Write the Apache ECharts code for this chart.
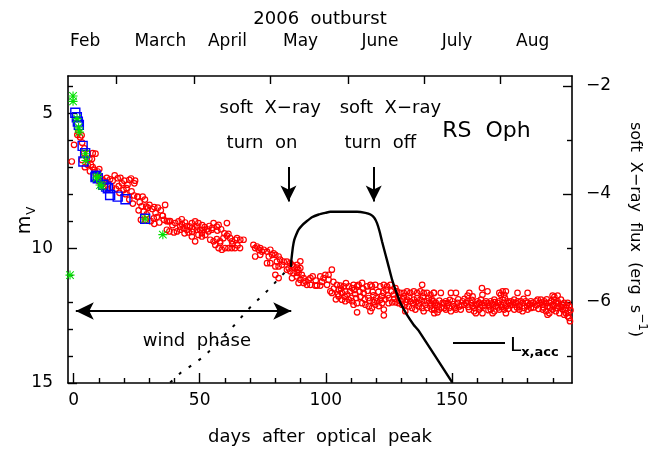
<!DOCTYPE html>
<html>
<head>
<meta charset="utf-8">
<title>RS Oph 2006 outburst</title>
<script src="https://cdn.jsdelivr.net/npm/echarts@6/dist/echarts.min.js"></script>
<style>
  html, body { margin: 0; padding: 0; background: #fff; }
  #chart { width: 670px; height: 454px; }
</style>
</head>
<body>
<div id="chart"></div>
<script>
/* ---- axes / ticks ---- */
const dayTicks = [0, 50, 100, 150]
const dayMinorTicks = [10, 20, 30, 40, 60, 70, 80, 90, 110, 120, 130, 140, 160, 170, 180, 190]
const monthStarts = [17, 48, 78, 109, 139, 169]
const monthNames = ['Feb', 'March', 'April', 'May', 'June', 'July', 'Aug']
const monthLabelDays = [4.6, 34.4, 61, 90, 121.5, 152, 182]
const magTicks = [5, 10, 15]
const magMinorTicks = [4, 6, 7, 8, 9, 11, 12, 13, 14]
const fluxTicks = [-2, -4, -6]
const fluxMinorTicks = [-3, -5, -7]

/* ---- visual magnitudes (day, m_V) ---- */
const redEarly = [
  [-0.7,6.79],[0.2,6.17],[1.5,5.80],[1.9,5.70],[3.2,5.82],[2.6,5.89],[3.4,6.09],[4.3,6.30],[4.2,6.48],[5.6,6.50],
  [7.6,6.48],[8.7,6.50],[6.3,6.69],[7.3,6.70],[3.3,6.73],[5.6,6.91],[6.9,6.91],[7.6,7.00],[8.3,7.10],[9.6,7.16],
  [10.2,7.07],[4.5,7.00],[6.5,7.15],[8.8,7.25],[9.8,7.30],[10.5,7.35],[11.2,7.45],[12.0,7.50],[12.8,7.55],[11.5,7.62],
  [13.2,7.40],[9.9,7.50],[10.8,7.60],[12.4,7.70],[13.6,7.82],[14.5,7.45],[15.5,7.50],[16.3,7.30],[17.5,7.41],[18.6,7.40],
  [19.2,7.60],[20.1,7.50],[21.4,7.65],[22.1,7.47],[22.8,7.42],[24.4,7.50],[24.1,7.60],[15.2,7.75],[16.8,7.80],[17.9,7.70],
  [19.8,7.85],[21.0,7.78],[18.2,7.95],[20.6,8.00],[23.0,7.90],[24.0,8.05],[22.1,8.20],[23.5,8.35],[25.3,8.10],[25.5,8.09],
  [26.2,8.30],[27.4,8.09],[27.0,8.45],[28.3,8.20],[28.8,8.46],[29.5,8.50],[25.8,8.60],[27.8,8.65],[30.1,8.40],[31.2,8.55],
  [32.0,8.48],[32.5,8.70],[33.4,8.50],[34.6,8.60],[35.2,8.80],[29.0,8.75],[31.8,8.90],[33.0,8.85],[28.5,8.95],[30.6,9.00],
  [26.7,8.95],[32.0,9.10],[34.0,9.05],[35.8,8.95],[36.3,8.40],[35.4,8.80],[37.0,9.00],[37.7,9.00],[38.3,9.00],[37.0,9.32],
  [38.0,9.38]
]
const redMid = [
  [40.3,9.07],[41.6,9.01],[42.9,8.93],[42.3,9.20],[43.6,9.26],[41.0,9.38],[42.3,9.32],[44.9,9.32],[45.6,9.42],[46.2,9.20],
  [46.9,9.07],[48.2,9.01],[49.5,9.07],[47.5,9.30],[48.9,9.32],[50.2,9.32],[51.5,9.32],[52.9,9.30],[50.9,9.44],[52.2,9.51],
  [53.5,9.38],[54.8,9.32],[55.5,9.07],[56.8,9.20],[57.5,9.14],[60.8,9.07],[48.2,9.75],[46.9,9.57],[49.5,9.51],[50.9,9.57],
  [54.2,9.69],[55.5,9.75],[56.8,9.67],[58.1,9.75],[59.4,9.63],[60.8,9.54],[61.4,9.47],[62.1,9.63],[56.2,9.88],[57.5,10.00],
  [58.8,10.06],[60.1,10.00],[61.4,10.00],[62.7,10.00],[64.0,10.00],[66.0,10.00],[62.8,9.75],[64.1,9.69],[64.8,9.63],[66.1,9.69],
  [67.4,9.69],[58.1,9.81],[43.0,9.12],[44.2,9.05],[45.0,9.18],[47.0,9.40],[49.0,9.20],[51.0,9.15],[52.0,9.22],[53.8,9.18],
  [55.0,9.25],[57.0,9.35],[58.5,9.30],[59.8,9.45],[63.0,9.85],[65.0,9.90],[39.2,9.15],[39.8,9.42],[44.0,9.45],
  [71.3,9.88],[72.0,10.00],[72.7,9.94],[74.0,10.00],[73.4,10.06],[74.7,10.13],[75.4,10.06],[76.7,10.13],[78.0,10.06],[79.3,10.19],
  [74.0,10.25],[72.0,10.31],[77.4,10.31],[78.7,10.25],[80.0,10.25],[81.3,10.31],[81.9,10.43],[80.6,10.50],[76.7,10.56],[78.0,10.56],
  [80.0,10.68],[81.3,10.68],[82.6,10.62],[83.3,10.50],[84.6,10.50],[85.9,10.56],[86.6,10.62],[87.2,10.68],[88.5,10.72],[85.3,10.75],
  [84.6,10.80],[85.9,10.86],[87.2,10.93],[88.5,10.90],[89.1,10.80],[80.0,10.99],[81.3,11.11],[86.6,11.11],[88.5,11.05]
]
const redLate = [
  [89.9,10.49],[88.6,10.62],[89.9,10.74],[89.2,10.92],[90.5,10.99],[91.2,11.11],[89.9,11.17],[91.9,11.23],[93.2,11.17],[93.9,11.11],
  [89.2,11.29],[91.2,11.29],[92.5,11.36],[93.9,11.36],[97.8,11.05],[99.1,11.11],[99.8,10.99],[101.1,10.99],[102.4,10.80],[101.1,11.17],
  [100.5,11.36],[97.8,11.39],[96.5,11.39],[95.8,11.39],[101.8,11.60],[102.4,11.66],[104.4,11.36],[105.8,11.39],[107.1,11.42],[105.1,11.54],
  [106.4,11.66],[107.7,11.60],[109.1,11.42],[110.4,11.48],[111.0,11.36],[112.4,11.42],[113.0,11.36],[114.4,11.29],[116.3,11.42],[117.7,11.36],
  [118.3,11.42],[119.6,11.36],[121.6,11.42],[123.0,11.36],[124.3,11.42],[125.6,11.36],[127.6,11.48],[128.2,11.60],[129.6,11.66],[130.9,11.66],
  [132.2,11.60],[133.5,11.66],[134.9,11.60],[136.2,11.66],[137.5,11.60],[138.8,11.66],[140.1,11.66],[141.5,11.73],[142.8,11.66],[138.2,11.36],
  [105.1,11.79],[106.4,11.91],[107.7,11.97],[109.1,11.91],[110.4,11.97],[111.0,12.10],[112.4,12.04],[114.4,12.04],[115.7,12.10],[117.0,12.16],
  [118.3,12.22],[119.6,12.10],[120.3,11.97],[121.6,11.91],[122.3,12.04],[123.0,12.28],[123.0,12.49],[112.4,12.38],[117.7,12.34],[124.9,12.04],
  [126.3,12.01],[127.6,12.01],[128.9,12.04],[130.2,12.10],[131.5,12.10],[132.9,12.16],[134.2,12.22],[135.5,12.28],[136.8,12.16],[138.2,12.22],
  [138.8,12.34],[140.1,12.22],[141.5,12.16],[142.1,12.28],[131.5,12.34],[130.9,11.79],[132.2,11.91],[133.5,11.97],[134.9,11.91],[136.2,11.85],
  [137.5,11.91],[138.8,11.97],[140.1,11.97],[141.5,12.04],[142.8,11.97],[108.5,11.72],[111.7,11.70],[113.7,11.80],[115.0,11.66],[116.9,11.85],
  [118.9,11.75],[120.9,11.62],[122.3,11.78],[124.0,11.55],[125.0,11.85],[126.9,11.72],[110.0,11.85],[104.0,11.90],[103.2,11.50],[119.0,12.00],
  [103.0,11.25],[104.8,11.70],[106.0,11.50],[107.5,11.80],[108.0,11.30],[109.6,11.60],[111.3,11.55],[112.0,11.85],[113.4,11.62],[114.8,11.50],
  [115.5,11.90],[116.6,11.58],[117.4,11.95],[118.6,11.62],[120.0,11.85],[121.0,12.15],[122.8,11.65],[123.6,11.90],[124.6,11.75],[126.0,11.60],
  [127.2,11.88],[128.6,11.80],[129.2,11.95],[130.5,11.90],[131.8,12.00],[133.0,11.80],[134.5,12.05],[135.8,12.00],[137.0,12.05],[138.5,11.80],
  [139.5,12.10],[140.8,11.85],[142.0,11.90],[96.0,11.20],[98.5,11.25],[94.8,11.05]
]
const redTail = [
  [142.9,11.66],[145.6,11.66],[149.6,11.66],[151.6,11.66],[156.9,11.66],[156.2,11.76],[158.2,11.79],[161.9,11.48],[164.1,11.60],[162.1,11.73],
  [170.1,11.60],[171.4,11.60],[169.4,11.73],[170.7,11.73],[168.8,11.66],[176.0,11.66],[180.0,11.66],[189.9,11.76],[191.9,11.76],[190.6,11.81],
  [142.3,11.97],[143.6,12.03],[144.3,12.16],[143.0,12.28],[144.9,12.28],[146.3,12.03],[146.9,12.22],[147.6,11.97],[143.0,12.41],[144.3,12.38],
  [148.3,12.03],[148.9,12.22],[150.2,11.97],[150.9,12.16],[152.2,12.03],[152.9,12.16],[154.2,11.97],[154.9,12.10],[155.5,12.03],[147.6,12.28],
  [149.6,12.34],[151.6,12.28],[153.5,12.28],[156.2,11.97],[157.5,12.03],[158.2,12.16],[159.5,12.10],[160.2,11.97],[160.8,12.03],[161.5,11.91],
  [162.1,12.16],[162.8,12.03],[163.5,11.97],[156.8,12.28],[158.8,12.34],[160.8,12.28],[162.1,12.41],[159.5,12.41],[164.1,12.03],[164.8,12.16],
  [165.4,11.97],[166.1,12.10],[166.8,11.91],[167.4,12.16],[168.1,12.03],[168.8,11.97],[169.4,12.10],[170.1,11.91],[170.7,12.03],[171.4,12.16],
  [172.1,11.97],[172.7,12.03],[165.4,12.28],[166.8,12.34],[168.8,12.28],[170.7,12.28],[171.4,12.41],[166.1,12.41],[173.4,11.97],[174.0,12.10],
  [174.7,11.91],[175.4,12.03],[176.0,11.97],[176.7,12.16],[177.3,11.97],[178.0,12.03],[178.7,12.22],[179.3,11.97],[180.0,12.03],[180.7,12.10],
  [181.3,11.97],[182.0,12.03],[174.7,12.28],[176.7,12.28],[178.0,12.34],[180.0,12.28],[181.3,12.22],[183.3,11.97],[184.0,11.91],[184.6,12.03],
  [185.3,11.91],[186.0,12.10],[186.6,11.97],[187.3,12.03],[187.9,12.16],[188.6,12.03],[189.3,11.97],[189.9,12.10],[190.6,11.91],[191.2,12.03],
  [186.0,12.28],[187.3,12.34],[188.6,12.41],[189.9,12.28],[187.9,12.47],[191.9,11.97],[192.6,12.16],[193.2,11.91],[193.9,12.10],[194.5,12.03],
  [195.2,12.22],[195.9,12.03],[196.5,12.16],[193.9,12.28],[195.2,12.41],[194.5,12.47],[195.9,12.53],[196.5,12.59],[196.8,12.71],[192.6,12.41],
  [191.2,12.34],
  [143.3,12.10],[145.0,11.95],[145.9,12.20],[147.0,12.05],[148.0,12.15],[149.2,11.92],[150.5,12.08],[151.2,12.22],[152.5,11.90],[153.8,12.12],
  [155.0,11.88],[156.5,12.18],[157.8,11.92],[159.0,12.22],[160.0,12.08],[161.2,12.20],[163.0,12.12],[164.5,12.30],[165.8,12.05],[167.0,12.00],
  [168.4,12.20],[169.8,12.18],[171.0,11.85],[172.3,12.25],[173.0,12.12],[174.3,12.02],[175.8,12.20],[177.0,12.10],[178.4,11.88],[179.8,12.15],
  [181.0,12.08],[182.4,12.20],[183.6,12.12],[184.3,12.25],[185.6,12.02],[186.3,12.20],[187.6,11.90],[188.9,12.20],[190.2,12.15],[191.5,12.22],
  [192.2,12.05],[193.5,12.18],[194.8,12.30],[195.5,12.12],[196.2,12.40],[197.0,12.30]
]
/* V-band photometry (blue squares) and other early points (green) */
const blueSquares = [
  [0.7,4.98],[1.3,5.15],[1.7,5.31],[2.1,5.43],[3.6,6.21],[4.6,6.48],[3.9,6.79],[8.7,7.37],[8.9,7.32],[9.6,7.41],
  [11.8,7.65],[12.9,7.72],[13.6,7.78],[14.5,8.03],[17.5,8.09],[20.6,8.19],[28.4,8.91]
]
const greenStars = [
  [-0.2,4.36],[-0.2,4.56],[1.4,5.20],[2.0,5.52],[2.3,5.70],[4.7,6.50],[4.9,6.75],[9.1,7.40],[9.6,7.35],[10.5,7.66],
  [11.2,7.70],[28.4,8.92],[35.4,9.50],[-1.4,11.00]
]
/* soft X-ray flux model, log(erg s^-1) on the right axis */
const lxCurve = [
  [86.2,-5.35],[86.3,-5.25],[86.6,-5.12],[87.0,-4.97],[87.5,-4.85],[88.3,-4.75],[89.2,-4.66],[90.6,-4.58],[92.3,-4.51],[94.5,-4.43],
  [97.2,-4.38],[99.8,-4.35],[101.8,-4.33],[107.1,-4.33],[112.4,-4.33],[115.7,-4.35],[117.7,-4.38],[119.2,-4.44],[120.3,-4.54],[121.3,-4.69],
  [122.3,-4.88],[123.6,-5.11],[124.9,-5.34],[126.3,-5.59],[127.6,-5.77],[129.6,-6.02],[132.2,-6.24],[134.8,-6.42],[136.8,-6.53],[150.1,-7.49]
]
const lxExtrapolated = [
  [38.3,-7.49],[42.5,-7.31],[47.5,-7.15],[52.2,-6.99],[60.8,-6.57],[64.8,-6.38],[68.7,-6.16],[73.1,-5.96],[77.3,-5.77],[81.3,-5.57],[85.9,-5.35]
]

const FONT = 'DejaVu Sans'
const X_MIN = -2.2, X_MAX = 197.6
const MAG_MIN = 3.62, MAG_MAX = 15
const FLUX_MIN = -7.5, FLUX_MAX = -1.815

const lineStyle = { color: '#000', width: 1.6 }
const tickStyle = { color: '#000', width: 1.4 }
const labelStyle = { color: '#000', fontFamily: FONT, fontSize: 17 }
// text notes sit centred on their data point
const noteStyle = {
  show: true, position: [0.5, 0.5], align: 'center', verticalAlign: 'middle',
  color: '#000', fontFamily: FONT, fontSize: 18
}

/* an extra axis that only carries tick marks */
function tickOnlyAxis (base, values, len) {
  return Object.assign({
    type: 'value',
    axisLine: { show: false, onZero: false },
    axisTick: { show: true, inside: true, length: len, customValues: values, lineStyle: tickStyle },
    axisLabel: { show: false },
    splitLine: { show: false }
  }, base)
}

const chart = echarts.init(document.getElementById('chart'))

const option = {
  animation: false,
  backgroundColor: '#fff',
  textStyle: { fontFamily: FONT },
  grid: { left: 68, right: 98, top: 76, bottom: 71, outerBoundsMode: 'none' },
  legend: {
    data: ['Lx,acc'],
    left: 448,
    top: 331,
    icon: 'rect',
    itemWidth: 52,
    itemHeight: 2,
    formatter: () => '{l|L}{s|x,acc}',
    textStyle: {
      color: '#000',
      rich: {
        l: { fontSize: 20, fontFamily: FONT, lineHeight: 14, verticalAlign: 'top' },
        s: { fontSize: 13, fontFamily: FONT, fontWeight: 'bold', lineHeight: 14, padding: [10, 0, 0, 0], verticalAlign: 'top' }
      }
    }
  },
  xAxis: [
    {
      type: 'value', position: 'bottom', min: X_MIN, max: X_MAX,
      splitLine: { show: false },
      axisLine: { show: true, onZero: false, lineStyle },
      axisTick: { show: true, inside: true, length: 10, customValues: dayTicks, lineStyle: tickStyle },
      axisLabel: Object.assign({ customValues: dayTicks, margin: 9 }, labelStyle),
      name: 'days  after  optical  peak', nameLocation: 'middle', nameGap: 45, nameMoveOverlap: false,
      nameTextStyle: { color: '#000', fontFamily: FONT, fontSize: 18 }
    },
    tickOnlyAxis({ position: 'bottom', min: X_MIN, max: X_MAX }, dayMinorTicks, 5),
    {
      type: 'value', position: 'top', min: X_MIN, max: X_MAX,
      splitLine: { show: false },
      axisLine: { show: true, onZero: false, lineStyle },
      axisTick: { show: false },
      axisLabel: Object.assign({
        customValues: monthLabelDays, margin: 26,
        formatter: v => {
          let best = 0
          monthLabelDays.forEach((d, i) => { if (Math.abs(d - v) < Math.abs(monthLabelDays[best] - v)) best = i })
          return monthNames[best]
        }
      }, labelStyle),
      name: '2006  outburst', nameLocation: 'middle', nameGap: 48, nameMoveOverlap: false,
      nameTextStyle: { color: '#000', fontFamily: FONT, fontSize: 18 }
    },
    tickOnlyAxis({ position: 'top', min: X_MIN, max: X_MAX }, monthStarts, 8)
  ],
  yAxis: [
    {
      type: 'value', position: 'left', inverse: true, min: MAG_MIN, max: MAG_MAX,
      splitLine: { show: false },
      axisLine: { show: true, onZero: false, lineStyle },
      axisTick: { show: true, inside: true, length: 9, customValues: magTicks, lineStyle: tickStyle },
      axisLabel: Object.assign({ customValues: magTicks, margin: 15 }, labelStyle),
      name: '{m|m}{v|V}', nameLocation: 'middle', nameGap: 36, nameRotate: 90, nameMoveOverlap: false,
      nameTextStyle: {
        color: '#000',
        padding: [0, 0, 0, 18],
        rich: {
          m: { fontSize: 19, fontFamily: FONT, lineHeight: 16, verticalAlign: 'top' },
          v: { fontSize: 12, fontFamily: FONT, lineHeight: 12, padding: [10, 0, 0, 1], verticalAlign: 'top' }
        }
      }
    },
    tickOnlyAxis({ position: 'left', inverse: true, min: MAG_MIN, max: MAG_MAX }, magMinorTicks, 5),
    {
      type: 'value', position: 'right', min: FLUX_MIN, max: FLUX_MAX,
      splitLine: { show: false },
      axisLine: { show: true, onZero: false, lineStyle },
      axisTick: { show: true, inside: true, length: 9, customValues: fluxTicks, lineStyle: tickStyle },
      axisLabel: Object.assign({ customValues: fluxTicks, margin: 14, formatter: v => '\u2212' + Math.abs(v) }, labelStyle),
      name: '{t|soft  X\u2212ray  flux  (erg  s}{sup|\u22121}{t|)}', nameLocation: 'middle', nameGap: 60, nameRotate: -90,
      nameMoveOverlap: false,
      nameTextStyle: {
        color: '#000',
        rich: {
          t: { fontSize: 16, fontFamily: FONT, lineHeight: 16, padding: [5, 0, 0, 0], verticalAlign: 'top' },
          sup: { fontSize: 12, fontFamily: FONT, lineHeight: 12, verticalAlign: 'top' }
        }
      }
    },
    tickOnlyAxis({ position: 'right', min: FLUX_MIN, max: FLUX_MAX }, fluxMinorTicks, 5)
  ],
  series: [
    {
      type: 'scatter', name: 'visual', xAxisIndex: 0, yAxisIndex: 0, silent: true,
      data: redEarly.concat(redMid, redLate, redTail),
      symbol: 'circle', symbolSize: 5.5,
      itemStyle: { color: 'rgba(0,0,0,0)', borderColor: '#ff0000', borderWidth: 1.2, opacity: 1 }
    },
    {
      type: 'scatter', name: 'V', xAxisIndex: 0, yAxisIndex: 0, silent: true,
      data: blueSquares, symbol: 'rect', symbolSize: 9,
      itemStyle: { color: 'rgba(0,0,0,0)', borderColor: '#0000ff', borderWidth: 1.4, opacity: 1 }
    },
    {
      type: 'scatter', name: 'other', xAxisIndex: 0, yAxisIndex: 0, silent: true,
      data: greenStars, symbolSize: 9,
      symbol: 'path://M4.4,0H5.6V10H4.4Z M0,4.4H10V5.6H0Z M1.2,0.4L9.6,8.8L8.8,9.6L0.4,1.2Z M8.8,0.4L9.6,1.2L1.2,9.6L0.4,8.8Z',
      itemStyle: { color: '#00e000', opacity: 1 }
    },
    {
      type: 'line', name: 'Lx,acc', xAxisIndex: 0, yAxisIndex: 2, silent: true,
      data: lxCurve, showSymbol: false, smooth: 0.15,
      lineStyle: { color: '#000', width: 2.4 }, itemStyle: { color: '#000' }
    },
    {
      type: 'line', name: 'extrapolation', xAxisIndex: 0, yAxisIndex: 2, silent: true,
      data: lxExtrapolated, showSymbol: false,
      lineStyle: { color: '#000', width: 2, type: [3, 9] }
    },
    {
      type: 'scatter', name: 'notes', xAxisIndex: 0, yAxisIndex: 0, silent: true,
      symbolSize: 1, itemStyle: { color: 'rgba(0,0,0,0)', opacity: 1 },
      label: noteStyle,
      data: [
        { value: [78, 4.81], label: Object.assign({}, noteStyle, { formatter: 'soft  X\u2212ray' }) },
        { value: [74.7, 6.11], label: Object.assign({}, noteStyle, { formatter: 'turn  on' }) },
        { value: [125.6, 4.8], label: Object.assign({}, noteStyle, { formatter: 'soft  X\u2212ray' }) },
        { value: [121.6, 6.1], label: Object.assign({}, noteStyle, { formatter: 'turn  off' }) },
        { value: [163.7, 5.66], label: Object.assign({}, noteStyle, { formatter: 'RS  Oph', fontSize: 22 }) },
        { value: [48.9, 13.46], label: Object.assign({}, noteStyle, { formatter: 'wind  phase' }) }
      ],
      markLine: {
        silent: true,
        animation: false,
        symbol: ['none', 'arrow'],
        symbolSize: [12, 16],
        label: { show: false },
        lineStyle: { color: '#000', width: 2, type: 'solid', opacity: 1 },
        data: [
          [{ coord: [85.2, 6.99] }, { coord: [85.2, 8.27] }],
          [{ coord: [119, 6.99] }, { coord: [119, 8.27] }],
          [{ coord: [0.9, 12.33], symbol: 'arrow', symbolSize: [13, 18] }, { coord: [86.3, 12.33], symbolSize: [13, 18] }]
        ]
      }
    }
  ]
}

chart.setOption(option)
</script>
</body>
</html>
